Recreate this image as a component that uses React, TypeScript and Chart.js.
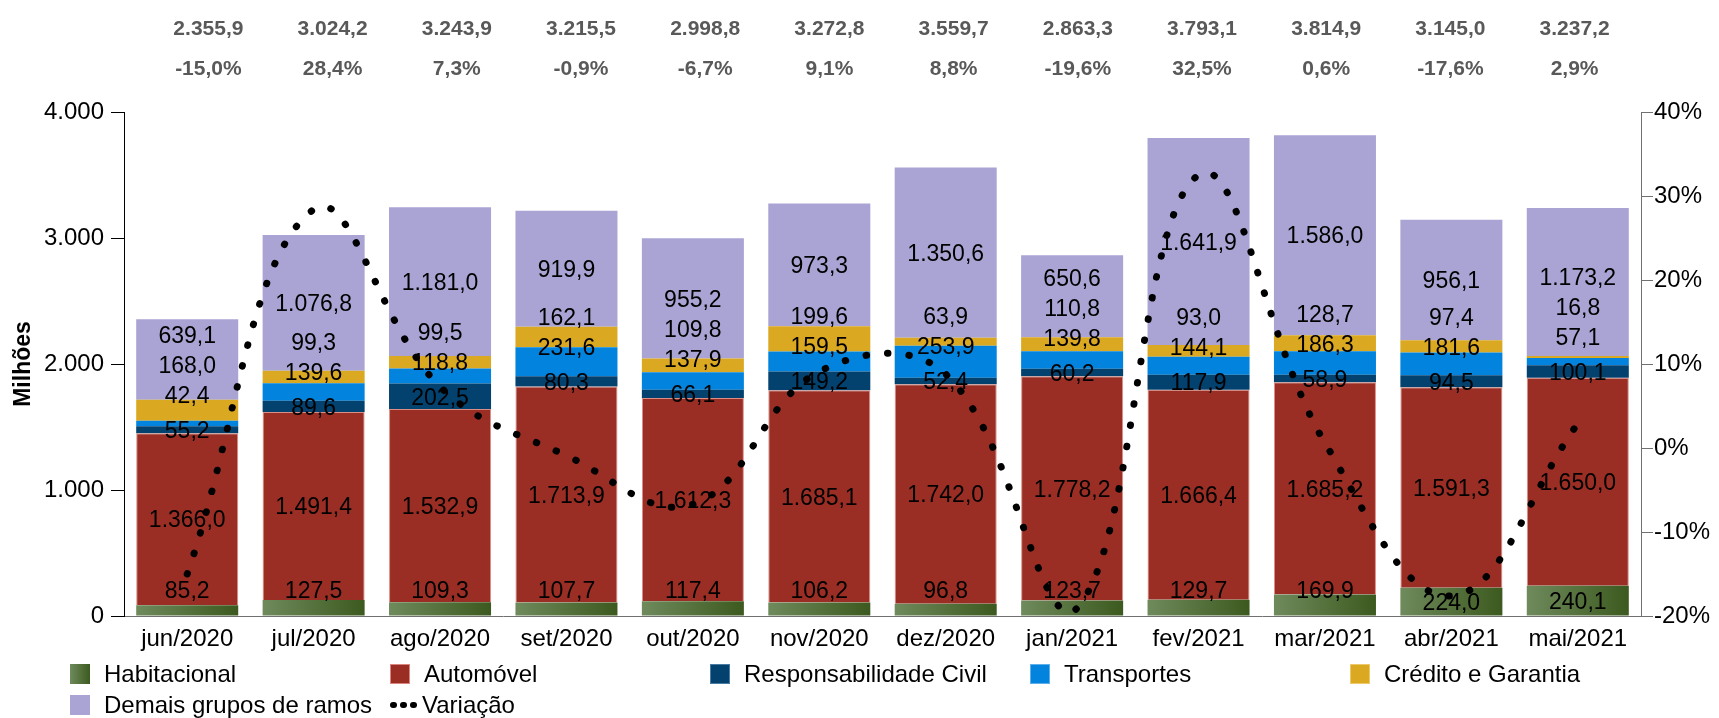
import React, { useEffect, useRef } from 'react';
import { Chart, registerables } from 'chart.js';

Chart.register(...registerables);

const categories = ['jun/2020', 'jul/2020', 'ago/2020', 'set/2020', 'out/2020', 'nov/2020', 'dez/2020', 'jan/2021', 'fev/2021', 'mar/2021', 'abr/2021', 'mai/2021'];
const habitacional = [85.2, 127.5, 109.3, 107.7, 117.4, 106.2, 96.8, 123.7, 129.7, 169.9, 224.0, 240.1];
const automovel = [1366.0, 1491.4, 1532.9, 1713.9, 1612.3, 1685.1, 1742.0, 1778.2, 1666.4, 1685.2, 1591.3, 1650.0];
const responsabilidadeCivil = [55.2, 89.6, 202.5, 80.3, 66.1, 149.2, 52.4, 60.2, 117.9, 58.9, 94.5, 100.1];
const transportes = [42.4, 139.6, 118.8, 231.6, 137.9, 159.5, 253.9, 139.8, 144.1, 186.3, 181.6, 57.1];
const creditoGarantia = [168.0, 99.3, 99.5, 162.1, 109.8, 199.6, 63.9, 110.8, 93.0, 128.7, 97.4, 16.8];
const demaisGrupos = [639.1, 1076.8, 1181.0, 919.9, 955.2, 973.3, 1350.6, 650.6, 1641.9, 1586.0, 956.1, 1173.2];
const variacao = [-15.0, 28.4, 7.3, -0.9, -6.7, 9.1, 8.8, -19.6, 32.5, 0.6, -17.6, 2.9];
const totais = [2355.9, 3024.2, 3243.9, 3215.5, 2998.8, 3272.8, 3559.7, 2863.3, 3793.1, 3814.9, 3145.0, 3237.2];
const leftTicks = [0, 1000, 2000, 3000, 4000];
const rightTicks = [-20, -10, 0, 10, 20, 30, 40];

const seriesNames = ['Habitacional', 'Automóvel', 'Responsabilidade Civil', 'Transportes', 'Crédito e Garantia', 'Demais grupos de ramos'];
const seriesData = [habitacional, automovel, responsabilidadeCivil, transportes, creditoGarantia, demaisGrupos];
const seriesColors = ['#55703c', '#9a2e24', '#03416f', '#0283dd', '#dba822', '#a9a4d3'];

const FONT = '"Liberation Sans", Arial, sans-serif';
const BAR_PCT = 0.807;

function fmtNum(v: number): string {
  const [i, d] = Math.abs(v).toFixed(1).split('.');
  const ii = i.replace(/\B(?=(\d{3})+(?!\d))/g, '.');
  return (v < 0 ? '-' : '') + ii + ',' + d;
}
function fmtInt(v: number): string {
  return String(Math.round(v)).replace(/\B(?=(\d{3})+(?!\d))/g, '.');
}

const segLabelsPlugin = {
  id: 'segLabels',
  afterDatasetsDraw(chart: any) {
    const ctx = chart.ctx;
    const bottom = chart.chartArea.bottom;
    ctx.save();
    ctx.font = `23px ${FONT}`;
    ctx.fillStyle = '#000';
    ctx.textAlign = 'center';
    ctx.textBaseline = 'alphabetic';
    for (let i = 0; i < categories.length; i++) {
      const els = seriesData.map((_, d) => chart.getDatasetMeta(d).data[i]);
      const c = els.map((e: any) => (e.y + e.base) / 2);
      const h0 = els[0].base - els[0].y;
      const ys: number[] = [];
      ys[0] = h0 >= 26 ? c[0] : bottom - 26;
      ys[1] = c[1];
      ys[2] = c[2];
      ys[3] = Math.min(c[3], ys[2] - 35);
      ys[4] = Math.min(c[4], ys[3] - 30);
      ys[5] = Math.min(c[5], ys[4] - 30);
      for (let d = 0; d < seriesData.length; d++) {
        ctx.fillText(fmtNum(seriesData[d][i]), els[d].x, ys[d] + 8.2);
      }
    }
    ctx.restore();
  },
};

const headerPlugin = {
  id: 'header',
  afterDraw(chart: any) {
    const ctx = chart.ctx;
    ctx.save();
    ctx.font = `bold 21px ${FONT}`;
    ctx.fillStyle = '#595959';
    ctx.textAlign = 'center';
    ctx.textBaseline = 'alphabetic';
    const x0 = 208.4;
    const step = 124.2;
    for (let i = 0; i < categories.length; i++) {
      const x = x0 + i * step;
      ctx.fillText(fmtNum(totais[i]), x, 27 + 7.5);
      ctx.fillText(fmtNum(variacao[i]) + '%', x, 67.5 + 7.5);
    }
    ctx.restore();
  },
};

function habGradient(c: any) {
  const chart = c.chart;
  const xs = chart.scales && chart.scales.x;
  if (!xs || c.dataIndex === undefined || !chart.chartArea) return '#55703c';
  const x = xs.getPixelForValue(c.dataIndex);
  const half = (xs.width / categories.length) * BAR_PCT / 2;
  const g = chart.ctx.createLinearGradient(x - half, 0, x + half, 0);
  g.addColorStop(0, '#6f8a5c');
  g.addColorStop(1, '#3c5a1f');
  return g;
}

export default function App() {
  const ref = useRef<HTMLCanvasElement>(null);

  useEffect(() => {
    const canvas = ref.current;
    if (!canvas) return;
    const barSets = seriesData.map((data, d) => ({
      type: 'bar' as const,
      label: seriesNames[d],
      data,
      backgroundColor: d === 0 ? habGradient : seriesColors[d],
      borderColor: d === 1 ? 'rgba(214,130,120,0.9)' : 'rgba(0,0,0,0)',
      borderWidth: d === 1 ? 1 : 0,
      yAxisID: 'y',
      order: 1,
      barPercentage: BAR_PCT,
      categoryPercentage: 1,
    }));
    const chart = new Chart(canvas, {
      type: 'bar',
      data: {
        labels: categories,
        datasets: [
          ...barSets,
          {
            type: 'line' as const,
            label: 'Variação',
            data: variacao,
            yAxisID: 'y1',
            order: 0,
            borderColor: '#000',
            borderWidth: 7,
            borderDash: [0.5, 21],
            borderCapStyle: 'round',
            pointRadius: 0,
            tension: 0.4,
            fill: false,
          } as any,
        ],
      },
      options: {
        animation: false,
        responsive: false,
        devicePixelRatio: 1,
        layout: { padding: { top: 112, left: 0, right: 0, bottom: 0 } },
        plugins: { legend: { display: false }, tooltip: { enabled: false } },
        scales: {
          x: {
            stacked: true,
            offset: true,
            grid: { display: false },
            border: { display: true, color: '#707070', width: 1 },
            ticks: { color: '#000', font: { family: FONT, size: 24 }, padding: 1, maxRotation: 0, autoSkip: false },
            afterFit: (s: any) => { s.height = 102; },
          },
          y: {
            stacked: true,
            position: 'left',
            min: 0,
            max: 4000,
            afterBuildTicks: (s: any) => { s.ticks = leftTicks.map((v) => ({ value: v })); },
            grid: { display: true, drawOnChartArea: false, drawTicks: true, tickLength: 13, color: '#000' },
            border: { display: true, color: '#000', width: 1 },
            ticks: { color: '#000', font: { family: FONT, size: 24 }, padding: 7, callback: (v: any) => fmtInt(Number(v)) },
            title: { display: true, text: 'Milhões', color: '#000', font: { family: FONT, size: 23, weight: 'bold' }, padding: { top: 10, bottom: 4 } },
            afterFit: (s: any) => { s.width = 124; },
          },
          y1: {
            stacked: false,
            position: 'right',
            min: -20,
            max: 40,
            afterBuildTicks: (s: any) => { s.ticks = rightTicks.map((v) => ({ value: v })); },
            grid: { display: true, drawOnChartArea: false, drawTicks: true, tickLength: 12, color: '#707070' },
            border: { display: true, color: '#707070', width: 1 },
            ticks: { color: '#000', font: { family: FONT, size: 24 }, padding: 1, callback: (v: any) => `${v}%` },
            afterFit: (s: any) => { s.width = 78; },
          },
        },
      } as any,
      plugins: [segLabelsPlugin, headerPlugin],
    });
    return () => chart.destroy();
  }, []);

  const legendItems = [
    { label: seriesNames[0], bg: 'linear-gradient(to right, #6f8a5c, #3c5a1f)', col: 0, row: 0 },
    { label: seriesNames[1], bg: '#9a2e24', border: '1px solid #d9877e', col: 1, row: 0 },
    { label: seriesNames[2], bg: '#03416f', border: '1px solid #4a7ba3', col: 2, row: 0 },
    { label: seriesNames[3], bg: '#0283dd', border: '1px solid #5fb0ea', col: 3, row: 0 },
    { label: seriesNames[4], bg: '#dba822', border: '1px solid #ecc96a', col: 4, row: 0 },
    { label: seriesNames[5], bg: '#a9a4d3', col: 0, row: 1 },
  ];
  const rowCenters = [674, 705];

  return (
    <div style={{ position: 'fixed', left: 0, top: 0, width: 1719, height: 718, background: '#fff', overflow: 'hidden' }}>
      <canvas ref={ref} width={1719} height={718} style={{ position: 'absolute', left: 0, top: 0, width: 1719, height: 718 }} />
      {legendItems.map((it) => (
        <div
          key={it.label}
          style={{
            position: 'absolute',
            left: 70 + 320 * it.col,
            top: rowCenters[it.row] - 14,
            height: 28,
            display: 'flex',
            alignItems: 'center',
            fontFamily: FONT,
            fontSize: 24,
            color: '#000',
            whiteSpace: 'nowrap',
          }}
        >
          <span style={{ display: 'inline-block', width: 20, height: 20, background: it.bg, boxSizing: 'border-box', border: it.border || 'none', marginRight: 14 }} />
          <span>{it.label}</span>
        </div>
      ))}
      <div
        style={{
          position: 'absolute',
          left: 390,
          top: rowCenters[1] - 14,
          height: 28,
          display: 'flex',
          alignItems: 'center',
          fontFamily: FONT,
          fontSize: 24,
          color: '#000',
          whiteSpace: 'nowrap',
        }}
      >
        <span style={{ display: 'inline-flex', width: 27, justifyContent: 'space-between', marginRight: 5 }}>
          {[0, 1, 2].map((k) => (
            <span key={k} style={{ display: 'inline-block', width: 7, height: 6, borderRadius: 3, background: '#000' }} />
          ))}
        </span>
        <span>Variação</span>
      </div>
    </div>
  );
}
